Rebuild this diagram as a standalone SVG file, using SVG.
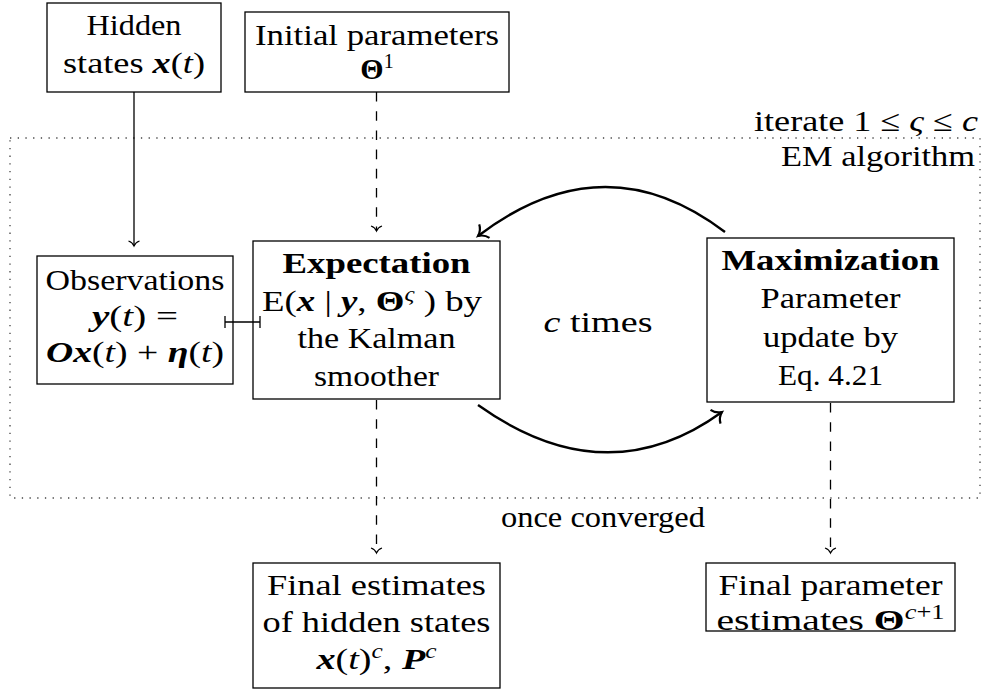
<svg xmlns="http://www.w3.org/2000/svg" width="984" height="691" viewBox="0 0 984 691">
  <defs>
    <style>
      .box { fill: #fff; stroke: #000; stroke-width: 1.3; }
      .t { font-family: "Liberation Serif", "DejaVu Serif", serif; font-size: 30px; fill: #000; text-anchor: middle; }
      .r { text-anchor: end; }
      .bi { font-weight: bold; font-style: italic; }
      .i { font-style: italic; }
      .b { font-weight: bold; }
      .sup { font-size: 20px; }
      .ln { fill: none; stroke: #000; stroke-width: 1.3; }
      .dash { stroke-dasharray: 9.6 9.6; }
      .thick { fill: none; stroke: #000; stroke-width: 2.4; }
      .frame { fill: none; stroke: #444; stroke-width: 1.3; stroke-dasharray: 1.3 6.4; }
    </style>
    <!-- open "to"-style arrow tips -->
    <marker id="to" markerUnits="userSpaceOnUse" orient="auto" overflow="visible" markerWidth="10" markerHeight="10" refX="0" refY="0">
      <path d="M-5,-5.5 C-4,-2.5 -1.6,-0.7 0,0 C-1.6,0.7 -4,2.5 -5,5.5" fill="none" stroke="#000" stroke-width="1.2" stroke-dasharray="none"/>
    </marker>
    <marker id="toBig" markerUnits="userSpaceOnUse" orient="auto" overflow="visible" markerWidth="16" markerHeight="16" refX="0" refY="0">
      <path d="M-8,-8.5 C-6.5,-4 -2.5,-1.1 0,0 C-2.5,1.1 -6.5,4 -8,8.5" fill="none" stroke="#000" stroke-width="2.2"/>
    </marker>
  </defs>

  <!-- EM loop frame -->
  <rect class="frame" x="10" y="138" width="970" height="360"/>
  <text class="t r" x="978" y="131" textLength="224" lengthAdjust="spacingAndGlyphs">iterate 1 ≤ <tspan class="i">ς</tspan> ≤ <tspan class="i">c</tspan></text>
  <text class="t r" x="975" y="166" textLength="194" lengthAdjust="spacingAndGlyphs">EM algorithm</text>
  <text class="t" x="598" y="332" textLength="109" lengthAdjust="spacingAndGlyphs"><tspan class="i">c</tspan> times</text>
  <text class="t" x="603" y="527" textLength="204" lengthAdjust="spacingAndGlyphs">once converged</text>

  <g id="hidden">
    <rect class="box" x="47" y="3" width="174" height="89"/>
    <text class="t" x="134" y="35" textLength="95" lengthAdjust="spacingAndGlyphs">Hidden</text>
    <text class="t" x="134" y="73" textLength="142" lengthAdjust="spacingAndGlyphs">states <tspan class="bi">x</tspan>(<tspan class="i">t</tspan>)</text>
  </g>

  <g id="initial">
    <rect class="box" x="245" y="12" width="264" height="80"/>
    <text class="t" x="377" y="45" textLength="244" lengthAdjust="spacingAndGlyphs">Initial parameters</text>
    <text class="t" x="377" y="79"><tspan class="b">Θ</tspan><tspan class="sup" dy="-11">1</tspan></text>
  </g>

  <g id="observations">
    <rect class="box" x="37" y="256" width="196" height="128"/>
    <text class="t" x="135" y="290" textLength="179" lengthAdjust="spacingAndGlyphs">Observations</text>
    <text class="t" x="135" y="326" textLength="86" lengthAdjust="spacingAndGlyphs"><tspan class="bi">y</tspan>(<tspan class="i">t</tspan>) =</text>
    <text class="t" x="135" y="362" textLength="178" lengthAdjust="spacingAndGlyphs"><tspan class="bi">Ox</tspan>(<tspan class="i">t</tspan>) + <tspan class="bi">η</tspan>(<tspan class="i">t</tspan>)</text>
  </g>

  <g id="expectation">
    <rect class="box" x="253" y="241" width="247" height="158"/>
    <text class="t b" x="376.5" y="273" textLength="188" lengthAdjust="spacingAndGlyphs">Expectation</text>
    <text class="t" x="372" y="311" textLength="220" lengthAdjust="spacingAndGlyphs">E(<tspan class="bi">x</tspan> | <tspan class="bi">y</tspan>, <tspan class="b">Θ</tspan><tspan class="sup i" dy="-10">ς</tspan><tspan dy="10"> ) by</tspan></text>
    <text class="t" x="376.5" y="348" textLength="158" lengthAdjust="spacingAndGlyphs">the Kalman</text>
    <text class="t" x="376.5" y="386" textLength="125" lengthAdjust="spacingAndGlyphs">smoother</text>
  </g>

  <g id="maximization">
    <rect class="box" x="707" y="238" width="247" height="164"/>
    <text class="t b" x="830.5" y="270" textLength="218" lengthAdjust="spacingAndGlyphs">Maximization</text>
    <text class="t" x="830.5" y="308" textLength="140" lengthAdjust="spacingAndGlyphs">Parameter</text>
    <text class="t" x="830.5" y="347" textLength="135" lengthAdjust="spacingAndGlyphs">update by</text>
    <text class="t" x="830.5" y="385" textLength="105" lengthAdjust="spacingAndGlyphs">Eq. 4.21</text>
  </g>

  <g id="final-states">
    <rect class="box" x="253" y="563" width="247" height="125"/>
    <text class="t" x="376.5" y="595" textLength="219" lengthAdjust="spacingAndGlyphs">Final estimates</text>
    <text class="t" x="376.5" y="632" textLength="228" lengthAdjust="spacingAndGlyphs">of hidden states</text>
    <text class="t" x="376.5" y="669" textLength="120" lengthAdjust="spacingAndGlyphs"><tspan class="bi">x</tspan>(<tspan class="i">t</tspan>)<tspan class="sup i" dy="-11">c</tspan><tspan dy="11">, </tspan><tspan class="bi">P</tspan><tspan class="sup i" dy="-11">c</tspan></text>
  </g>

  <g id="final-params">
    <rect class="box" x="706" y="563" width="249" height="68"/>
    <text class="t" x="830.5" y="595" textLength="224" lengthAdjust="spacingAndGlyphs">Final parameter</text>
    <text class="t" x="830.5" y="630" textLength="228" lengthAdjust="spacingAndGlyphs">estimates <tspan class="b">Θ</tspan><tspan class="sup" dy="-11"><tspan class="i">c</tspan>+1</tspan></text>
  </g>

  <g id="connectors">
    <path class="ln" d="M134,92 V246" marker-end="url(#to)"/>
    <path class="ln dash" d="M376.5,92 V231" marker-end="url(#to)"/>
    <path class="ln dash" d="M376.5,400 V553" marker-end="url(#to)"/>
    <path class="ln dash" d="M830.5,403 V553" marker-end="url(#to)"/>
    <path class="thick" d="M725,232 Q604,140 478,236" marker-end="url(#toBig)"/>
    <path class="thick" d="M478,405 Q606,496 722,412" marker-end="url(#toBig)"/>
    <!-- maps-to link with end bars -->
    <path class="ln" d="M225,322 H260 M225,316 V328 M260,316 V328"/>
  </g>
</svg>
